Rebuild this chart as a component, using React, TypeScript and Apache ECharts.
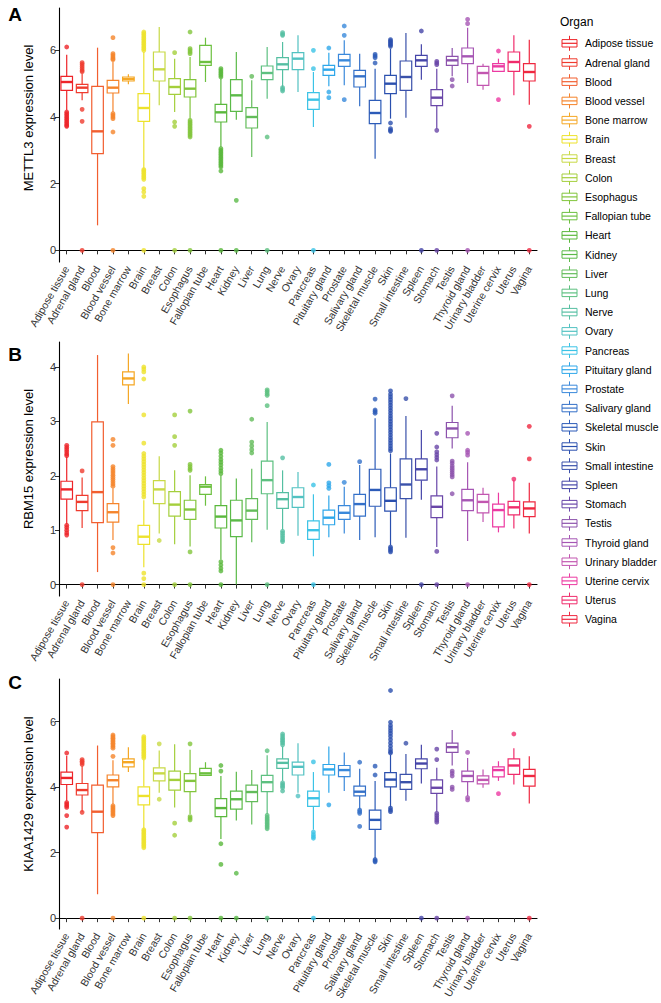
import React, { useEffect, useRef } from "react";
import * as echarts from "echarts";

const ORGANS = [
  "Adipose tissue", "Adrenal gland", "Blood", "Blood vessel", "Bone marrow", "Brain", "Breast", "Colon",
  "Esophagus", "Fallopian tube", "Heart", "Kidney", "Liver", "Lung", "Nerve", "Ovary", "Pancreas",
  "Pituitary gland", "Prostate", "Salivary gland", "Skeletal muscle", "Skin", "Small intestine", "Spleen",
  "Stomach", "Testis", "Thyroid gland", "Urinary bladder", "Uterine cervix", "Uterus", "Vagina",
];

const ORGAN_COLORS = [
  "#EE2429", "#EF3B2E", "#F25E2F", "#F5842B", "#F5A724", "#EDE22C", "#C8D946", "#A4CF3C",
  "#82C53C", "#6CC03F", "#5AB83C", "#5BBA48", "#63BC5A", "#5DC080", "#55BFA2", "#52C2C2", "#3BC3E6",
  "#2EA7EA", "#3A89DB", "#3470C8", "#2C5BB8", "#2A4FAE", "#3A51AA", "#4545A8", "#6946A8",
  "#8C52AC", "#A656B4", "#C256B0", "#EC3AA2", "#F02C6C", "#EF2840",
];

const TICKS_METTL3 = [0, 2, 4, 6];
const TICKS_RBM15 = [0, 1, 2, 3, 4];
const TICKS_KIAA1429 = [0, 2, 4, 6];

// [min, Q1, median, Q3, max] per organ
const METTL3_BOX = [
  [4.2, 4.8, 5.05, 5.22, 5.87], [4.5, 4.73, 4.88, 4.98, 5.3], [0.75, 2.9, 3.57, 4.92, 6.08],
  [4.15, 4.72, 4.88, 5.1, 5.65], [4.98, 5.08, 5.14, 5.2, 5.28], [2.45, 3.87, 4.27, 4.7, 5.95],
  [4.35, 5.08, 5.43, 5.95, 6.7], [4.15, 4.68, 4.9, 5.15, 5.75], [3.95, 4.6, 4.85, 5.12, 5.8],
  [5.05, 5.55, 5.65, 6.15, 6.38], [3.1, 3.85, 4.14, 4.38, 5.15], [3.92, 4.17, 4.65, 5.12, 5.95],
  [2.8, 3.67, 4.0, 4.28, 5.1], [4.55, 5.12, 5.32, 5.53, 6.1], [4.9, 5.42, 5.58, 5.78, 6.25],
  [4.75, 5.42, 5.75, 5.93, 6.45], [3.7, 4.23, 4.52, 4.73, 5.35], [4.92, 5.25, 5.42, 5.55, 5.93],
  [4.95, 5.52, 5.7, 5.88, 6.3], [4.32, 4.9, 5.22, 5.4, 5.9], [2.75, 3.8, 4.12, 4.5, 5.45],
  [3.95, 4.7, 5.0, 5.25, 6.05], [3.98, 4.8, 5.2, 5.68, 6.52], [5.12, 5.52, 5.7, 5.85, 6.18],
  [3.65, 4.34, 4.58, 4.82, 5.45], [5.22, 5.55, 5.7, 5.82, 6.07], [5.02, 5.6, 5.82, 6.07, 6.68],
  [4.82, 4.95, 5.32, 5.52, 5.6], [5.35, 5.37, 5.52, 5.6, 5.75], [4.65, 5.37, 5.65, 5.95, 6.45],
  [4.37, 5.08, 5.35, 5.6, 6.32],
];

// [organ index, outlier values]
const METTL3_OUT: [number, number[]][] = [
  [0, [6.1, 4.15, 4.1, 4.05, 4.0, 3.95, 3.9, 3.85, 3.8, 3.75, 3.72]],
  [1, [5.63, 5.58, 5.52, 5.46, 5.4, 5.36, 4.23, 3.87, 0]],
  [3, [6.38, 5.9, 5.85, 5.8, 5.75, 5.72, 4.1, 4.05, 4.0, 3.95, 3.55, 0]],
  [5, [6.55, 6.5, 6.45, 6.4, 6.35, 6.3, 6.25, 6.2, 6.15, 6.1, 6.05, 6.0, 2.42, 2.38, 2.33, 2.28, 2.23, 2.18, 2.13, 1.85, 1.75, 1.62, 0]],
  [7, [5.93, 3.85, 3.72, 0]],
  [8, [6.55, 6.05, 6.0, 5.95, 5.9, 3.9, 3.85, 3.8, 3.75, 3.7, 3.65, 3.6, 3.55, 3.5, 3.45, 3.4, 0]],
  [10, [5.45, 5.4, 5.35, 5.3, 5.25, 5.2, 3.05, 3.0, 2.95, 2.9, 2.85, 2.8, 2.75, 2.7, 2.65, 2.6, 2.55, 2.5, 2.38, 0]],
  [11, [1.5, 0]],
  [12, [5.22]],
  [13, [3.4, 0]],
  [14, [6.53, 6.48, 6.45, 4.88, 4.83, 4.78]],
  [16, [6.0, 5.45, 0]],
  [17, [6.07, 4.75, 4.58]],
  [18, [6.73, 6.45, 4.52]],
  [20, [5.88, 5.83, 5.78, 5.62]],
  [21, [6.32, 6.28, 6.24, 6.2, 6.16, 6.12, 3.82, 3.65, 3.6, 3.57]],
  [23, [6.58, 0]],
  [24, [5.67, 5.62, 5.57, 3.6, 0]],
  [25, [5.12, 4.93]],
  [26, [6.93, 6.8, 0]],
  [28, [5.98, 4.52]],
  [30, [3.72, 0]],
];

const RBM15_BOX = [
  [1.11, 1.57, 1.75, 1.9, 2.35], [1.04, 1.36, 1.52, 1.64, 1.97], [0.23, 1.14, 1.7, 2.99, 4.22],
  [0.82, 1.15, 1.33, 1.49, 1.77], [3.32, 3.67, 3.79, 3.91, 4.25], [0.32, 0.74, 0.88, 1.09, 1.55],
  [0.94, 1.49, 1.75, 1.91, 2.36], [0.74, 1.26, 1.47, 1.71, 2.1], [0.7, 1.2, 1.38, 1.55, 2.01],
  [1.45, 1.66, 1.8, 1.84, 1.99], [0.46, 1.04, 1.25, 1.45, 2.0], [0, 0.88, 1.18, 1.55, 1.95],
  [0.78, 1.2, 1.36, 1.58, 2.13], [1.01, 1.67, 1.92, 2.27, 2.99], [1.01, 1.4, 1.57, 1.69, 2.1],
  [0.9, 1.42, 1.61, 1.78, 2.07], [0.52, 0.83, 1.0, 1.17, 1.66], [0.87, 1.1, 1.23, 1.37, 1.64],
  [0.94, 1.2, 1.32, 1.45, 1.8], [0.82, 1.26, 1.48, 1.66, 2.2], [0.87, 1.44, 1.74, 2.12, 3.06],
  [0.72, 1.35, 1.54, 1.78, 2.41], [0.86, 1.58, 1.84, 2.31, 3.1], [1.56, 1.92, 2.12, 2.31, 2.84],
  [0.69, 1.23, 1.43, 1.63, 2.17], [2.5, 2.7, 2.87, 2.98, 3.29], [0.8, 1.36, 1.55, 1.75, 2.25],
  [1.15, 1.32, 1.52, 1.66, 1.78], [0.96, 1.06, 1.37, 1.48, 1.69], [1.03, 1.28, 1.42, 1.53, 1.92],
  [0.94, 1.25, 1.4, 1.52, 1.87],
];

const RBM15_OUT: [number, number[]][] = [
  [0, [2.56, 2.52, 2.48, 2.44, 2.4, 2.37, 1.09, 1.05, 1.0, 0.95, 0.91]],
  [1, [2.09, 0]],
  [3, [2.67, 2.56, 2.17, 2.13, 2.09, 2.05, 2.01, 1.97, 1.93, 1.89, 1.85, 1.81, 0.68, 0.58, 0]],
  [5, [4.0, 3.96, 3.91, 3.78, 3.12, 2.6, 2.41, 2.36, 2.31, 2.26, 2.21, 2.16, 2.11, 2.06, 2.01, 1.96, 1.91, 1.86, 1.81, 1.76, 1.71, 1.66, 1.61, 0.21, 0.11, 0]],
  [6, [0.81]],
  [7, [3.12, 2.72, 2.56, 0]],
  [8, [3.19, 2.21, 2.17, 2.13, 2.1, 0.6, 0]],
  [10, [2.47, 2.42, 2.36, 2.3, 2.25, 2.2, 2.14, 2.09, 2.04, 0.42, 0.36, 0.3, 0.25, 0]],
  [12, [3.04, 2.62, 2.55, 2.48, 2.42]],
  [13, [3.58, 3.55, 3.51, 3.48, 3.29, 0]],
  [14, [2.33, 0.98, 0.94, 0.9, 0.86, 0.82, 0.79]],
  [16, [1.83, 0]],
  [17, [2.21, 1.87, 1.82, 1.77]],
  [18, [1.88]],
  [19, [2.26]],
  [20, [3.41, 3.21, 3.18, 3.15]],
  [21, [3.56, 3.5, 3.45, 3.4, 3.35, 3.3, 3.25, 3.2, 3.15, 3.1, 3.05, 3.0, 2.95, 2.9, 2.85, 2.8, 2.75, 2.7, 2.65, 2.6, 2.55, 2.5, 2.46, 0.69, 0.66, 0.63, 0.6]],
  [22, [3.42]],
  [23, [0]],
  [24, [2.78, 2.53, 2.44, 2.39, 2.34, 2.29, 0.61, 0]],
  [25, [3.47, 2.27, 2.23, 2.18, 2.14, 2.1, 2.06, 2.02, 1.98, 1.67]],
  [26, [2.78, 2.47, 2.43, 2.38, 0]],
  [29, [1.94]],
  [30, [2.91, 2.31, 0]],
];

const KIAA1429_BOX = [
  [3.58, 4.08, 4.28, 4.46, 4.96], [3.25, 3.76, 3.91, 4.11, 4.64], [0.73, 2.61, 3.25, 4.06, 5.27],
  [3.48, 4.01, 4.21, 4.37, 4.82], [4.46, 4.62, 4.76, 4.86, 5.22], [2.73, 3.46, 3.73, 4.01, 4.84],
  [3.83, 4.19, 4.42, 4.59, 5.12], [3.38, 3.91, 4.22, 4.49, 5.31], [3.18, 3.86, 4.19, 4.41, 5.14],
  [4.34, 4.36, 4.42, 4.57, 4.76], [2.42, 3.1, 3.36, 3.65, 4.34], [2.98, 3.33, 3.63, 3.88, 4.47],
  [2.86, 3.56, 3.85, 4.06, 4.52], [3.18, 3.86, 4.15, 4.36, 4.97], [4.19, 4.57, 4.74, 4.86, 5.24],
  [3.83, 4.37, 4.62, 4.76, 5.34], [2.7, 3.41, 3.66, 3.88, 4.46], [3.83, 4.37, 4.54, 4.69, 5.24],
  [3.88, 4.32, 4.52, 4.66, 5.06], [3.33, 3.73, 3.86, 4.03, 4.56], [1.82, 2.71, 3.0, 3.3, 4.19],
  [3.38, 4.01, 4.23, 4.44, 4.99], [3.58, 3.93, 4.15, 4.39, 5.01], [4.11, 4.56, 4.72, 4.86, 5.29],
  [3.25, 3.81, 3.98, 4.22, 4.59], [4.66, 5.06, 5.22, 5.34, 5.74], [3.73, 4.17, 4.34, 4.49, 4.89],
  [3.98, 4.1, 4.22, 4.34, 4.54], [4.19, 4.31, 4.52, 4.62, 4.79], [4.08, 4.39, 4.66, 4.86, 5.19],
  [3.5, 4.03, 4.34, 4.54, 4.94],
];

const KIAA1429_OUT: [number, number[]][] = [
  [0, [5.04, 3.53, 3.48, 3.43, 3.38, 3.13, 2.78]],
  [1, [4.84, 4.79, 4.74, 4.69, 3.23, 0]],
  [3, [5.59, 5.54, 5.49, 5.44, 5.39, 5.34, 5.29, 5.24, 5.19, 4.94, 3.43, 3.38, 3.33, 3.28, 3.23, 3.18, 3.13, 0]],
  [5, [5.54, 5.49, 5.44, 5.39, 5.34, 5.29, 5.24, 5.19, 5.14, 5.09, 5.04, 4.99, 4.94, 4.89, 2.7, 2.65, 2.6, 2.55, 2.5, 2.45, 2.4, 2.35, 2.3, 2.25, 2.2, 2.15, 0]],
  [6, [5.32, 3.63]],
  [7, [2.9, 2.53, 0]],
  [8, [5.32, 3.1, 3.05, 3.0, 0]],
  [10, [4.66, 4.49, 2.27, 1.64, 0]],
  [11, [1.37, 0]],
  [13, [5.11, 3.14, 3.08, 3.03, 2.98, 2.93, 2.88, 2.83, 2.78, 2.73, 0]],
  [14, [5.62, 5.56, 5.5, 5.45, 5.4, 5.35, 5.29, 4.13, 4.08, 4.03, 3.98, 3.88]],
  [15, [3.73]],
  [16, [4.77, 2.63, 2.55, 2.49, 2.44, 0]],
  [17, [3.46]],
  [19, [4.76, 3.3, 3.25, 3.2, 2.8]],
  [20, [4.64, 4.37, 1.79, 1.75, 1.72]],
  [21, [6.95, 5.98, 5.88, 5.8, 5.72, 5.64, 5.55, 5.45, 5.35, 5.25, 5.15, 5.08, 5.04, 3.36, 3.3, 3.25]],
  [22, [5.34]],
  [23, [0]],
  [24, [5.16, 4.84, 3.2, 3.13, 3.06, 2.99, 2.93, 0]],
  [25, [4.49, 4.42, 4.34, 4.0, 3.93]],
  [26, [5.06, 3.68, 3.61, 0]],
  [28, [3.8]],
  [29, [5.62]],
  [30, [0]],
];

const FONT = "'Liberation Sans', Arial, Helvetica, sans-serif";

const PANELS = [
  { letter: "A", title: "METTL3 expression level", box: METTL3_BOX, out: METTL3_OUT, ticks: TICKS_METTL3,
    top: 8, height: 254, min: -0.35, max: 7.27, letterY: 14, titleY: 118 },
  { letter: "B", title: "RBM15 expression level", box: RBM15_BOX, out: RBM15_OUT, ticks: TICKS_RBM15,
    top: 342, height: 254, min: -0.21, max: 4.46, letterY: 354, titleY: 459 },
  { letter: "C", title: "KIAA1429 expression level", box: KIAA1429_BOX, out: KIAA1429_OUT, ticks: TICKS_KIAA1429,
    top: 679, height: 252, min: -0.33, max: 7.3, letterY: 682, titleY: 794 },
];

function buildOption() {
  const grid: any[] = [];
  const xAxis: any[] = [];
  const yAxis: any[] = [];
  const series: any[] = [];
  const graphic: any[] = [];

  PANELS.forEach((p, g) => {
    grid.push({ left: 59, width: 478, top: p.top, height: p.height, containLabel: false });
    xAxis.push({
      gridIndex: g, type: "category", data: ORGANS, boundaryGap: true,
      axisLine: { show: true, lineStyle: { color: "#000", width: 1.1 } },
      axisTick: { show: true, alignWithLabel: true, length: 4, lineStyle: { color: "#333", width: 1 } },
      axisLabel: { interval: 0, rotate: 60, fontSize: 10.5, fontFamily: FONT, color: "#333", margin: 5 },
      splitLine: { show: false },
    });
    yAxis.push({
      gridIndex: g, type: "value", min: p.min, max: p.max,
      axisLine: { show: true, lineStyle: { color: "#000", width: 1.1 } },
      axisTick: { show: true, length: 4, customValues: p.ticks, lineStyle: { color: "#333", width: 1 } },
      axisLabel: { customValues: p.ticks, fontSize: 11, fontFamily: FONT, color: "#333", margin: 3 },
      splitLine: { show: false },
    });

    const outData: any[] = [];
    p.out.forEach(([idx, vals]) => {
      vals.forEach((v) => outData.push({ value: [idx, v], itemStyle: { color: ORGAN_COLORS[idx] } }));
    });
    series.push({
      type: "scatter", xAxisIndex: g, yAxisIndex: g, symbol: "circle", symbolSize: 4.8,
      data: outData, z: 2, silent: true, clip: false,
    });
    series.push({
      type: "custom", xAxisIndex: g, yAxisIndex: g, z: 3, silent: true,
      data: p.box.map((b, i) => [i, ...b]),
      encode: { x: 0, y: [1, 2, 3, 4, 5] },
      renderItem: (params: any, api: any) => {
        const i = api.value(0);
        const color = ORGAN_COLORS[i];
        const cx = api.coord([i, api.value(1)])[0];
        const yMin = api.coord([i, api.value(1)])[1];
        const yQ1 = api.coord([i, api.value(2)])[1];
        const yMed = api.coord([i, api.value(3)])[1];
        const yQ3 = api.coord([i, api.value(4)])[1];
        const yMax = api.coord([i, api.value(5)])[1];
        const bw = api.size([1, 0])[0] * 0.75;
        return {
          type: "group",
          children: [
            { type: "line", shape: { x1: cx, y1: yQ1, x2: cx, y2: yMin }, style: { stroke: color, lineWidth: 1.2 } },
            { type: "line", shape: { x1: cx, y1: yQ3, x2: cx, y2: yMax }, style: { stroke: color, lineWidth: 1.2 } },
            { type: "rect", shape: { x: cx - bw / 2, y: yQ3, width: bw, height: Math.max(yQ1 - yQ3, 0.5) },
              style: { fill: "#fff", stroke: color, lineWidth: 1.2 } },
            { type: "line", shape: { x1: cx - bw / 2, y1: yMed, x2: cx + bw / 2, y2: yMed },
              style: { stroke: color, lineWidth: 2.4 } },
          ],
        };
      },
    });

    graphic.push({
      type: "text", x: 15, y: p.letterY,
      style: { text: p.letter, font: `bold 19px ${FONT}`, fill: "#000", textAlign: "center", textVerticalAlign: "middle", align: "center", verticalAlign: "middle" },
    });
    graphic.push({
      type: "text", x: 28, y: p.titleY, rotation: Math.PI / 2,
      style: { text: p.title, font: `13px ${FONT}`, fill: "#000", textAlign: "center", textVerticalAlign: "middle", align: "center", verticalAlign: "middle" },
    });
  });

  // legend (drawn)
  graphic.push({
    type: "text", x: 560, y: 22,
    style: { text: "Organ", font: `12px ${FONT}`, fill: "#000", textAlign: "left", textVerticalAlign: "middle", align: "left", verticalAlign: "middle" },
  });
  ORGANS.forEach((name, i) => {
    const cy = 43.3 + 19.2 * i;
    const c = ORGAN_COLORS[i];
    graphic.push({ type: "line", shape: { x1: 569.5, y1: cy - 7.5, x2: 569.5, y2: cy + 7.5 }, style: { stroke: c, lineWidth: 1 } });
    graphic.push({ type: "rect", shape: { x: 562, y: cy - 3.7, width: 15, height: 7.4 }, style: { fill: "#fff", stroke: c, lineWidth: 1 } });
    graphic.push({ type: "line", shape: { x1: 562, y1: cy, x2: 577, y2: cy }, style: { stroke: c, lineWidth: 1.2 } });
    graphic.push({
      type: "text", x: 585, y: cy,
      style: { text: name, font: `10.5px ${FONT}`, fill: "#000", textAlign: "left", textVerticalAlign: "middle", align: "left", verticalAlign: "middle" },
    });
  });

  return {
    animation: false,
    backgroundColor: "#fff",
    grid, xAxis, yAxis, series, graphic,
  };
}

export default function App() {
  const ref = useRef<HTMLDivElement>(null);
  useEffect(() => {
    if (!ref.current) return;
    const chart = echarts.init(ref.current, null, { renderer: "svg" });
    chart.setOption(buildOption() as any);
    return () => chart.dispose();
  }, []);
  return (
    <div
      ref={ref}
      style={{ position: "fixed", left: 0, top: 0, width: 661, height: 1003, background: "#fff" }}
    />
  );
}
